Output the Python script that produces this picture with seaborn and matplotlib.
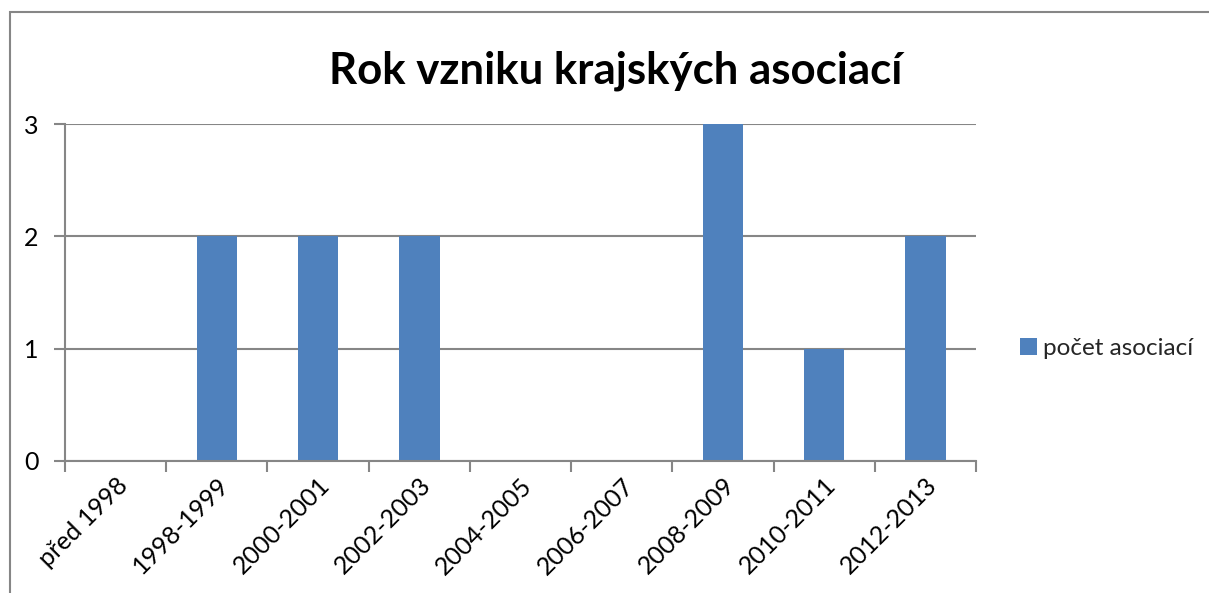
import matplotlib
matplotlib.use("Agg")
import matplotlib.pyplot as plt
import seaborn as sns
import pandas as pd
from matplotlib.patches import Rectangle

categories = ["před 1998", "1998-1999", "2000-2001", "2002-2003", "2004-2005",
              "2006-2007", "2008-2009", "2010-2011", "2012-2013"]
counts = [0, 2, 2, 2, 0, 0, 3, 1, 2]
series_name = "počet asociací"
title = "Rok vzniku krajských asociací"

df = pd.DataFrame({"Období": categories, "Počet": counts})

sns.set_theme(style="white")
plt.rcParams['font.family'] = ['Lato', 'DejaVu Sans']

grid_color = "#868686"
bar_color = "#4F81BD"

fig = plt.figure(figsize=(12.09, 5.93), dpi=100)
ax = fig.add_axes([65 / 1209, 1 - 461 / 593, 911 / 1209, 337 / 593])

sns.barplot(data=df, x="Období", y="Počet", color=bar_color, width=0.4,
            saturation=1, label=series_name, linewidth=0, ax=ax)

ax.set_xlim(-0.5, len(categories) - 0.5)
ax.set_ylim(0, 3)
ax.set_yticks([0, 1, 2, 3])
ax.yaxis.grid(True, color=grid_color, linewidth=1.5)
ax.set_axisbelow(True)
ax.set_xlabel("")
ax.set_ylabel("")

for side in ["top", "right"]:
    ax.spines[side].set_visible(False)
for side in ["left", "bottom"]:
    ax.spines[side].set_color(grid_color)
    ax.spines[side].set_linewidth(1.5)

# tick marks sit on the category boundaries, labels in the middle
ax.set_xticks([i - 0.5 for i in range(len(categories) + 1)], minor=True)
ax.tick_params(axis="x", which="minor", bottom=True, length=8, width=1.5, color=grid_color)
ax.tick_params(axis="x", which="major", bottom=False, length=0, pad=9)
ax.tick_params(axis="y", left=True, length=8, width=1.5, color=grid_color, pad=11,
               labelsize=18, labelcolor="black")
ax.set_xticks(range(len(categories)))
ax.set_xticklabels(categories, rotation=45, ha="right", rotation_mode="anchor",
                   fontsize=18, color="black")

ax.set_title(title, fontsize=31.5, fontweight="bold", color="black",
             x=(616 - 65) / 911, y=1.0, pad=29)

ax.legend(loc="center left", bbox_to_anchor=(1.048, 0.335), frameon=False,
          fontsize=17.5, handlelength=0.7, handleheight=0.7, handletextpad=0.25,
          borderpad=0, borderaxespad=0)

fig.add_artist(Rectangle((10 / 1209, -0.2), 1.2, 1.2 - 12 / 593,
                         transform=fig.transFigure, fill=False,
                         edgecolor=grid_color, linewidth=1.5, clip_on=False))

fig.savefig("out.png", dpi=100)
